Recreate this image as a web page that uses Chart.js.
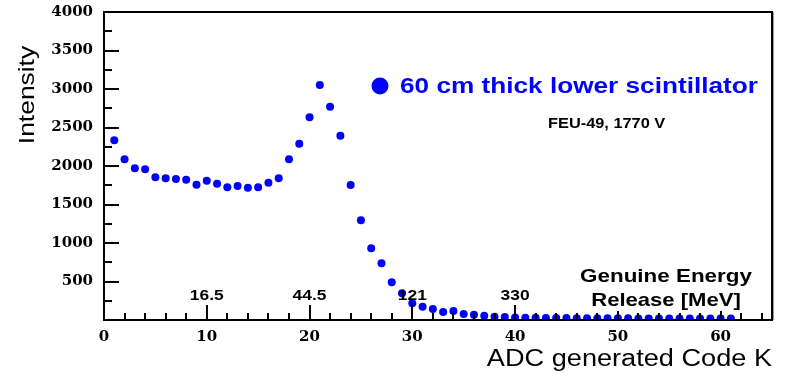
<!DOCTYPE html>
<html>
<head>
<meta charset="utf-8">
<script src="https://cdn.jsdelivr.net/npm/chart.js@4/dist/chart.umd.min.js"></script>
<style>
  html, body { margin: 0; padding: 0; background: #ffffff; }
  #wrap { width: 790px; height: 373px; }
</style>
</head>
<body>
<div id="wrap"><canvas id="c" width="790" height="373"></canvas></div>
<script>
// ---- data ----
const adcCodes = [1,2,3,4,5,6,7,8,9,10,11,12,13,14,15,16,17,18,19,20,
  21,22,23,24,25,26,27,28,29,30,31,32,33,34,35,36,37,38,39,40,
  41,42,43,44,45,46,47,48,49,50,51,52,53,54,55,56,57,58,59,60,61];
const intensity = [2334,2087,1970,1957,1853,1840,1831,1822,1757,1809,
  1770,1723,1740,1718,1723,1783,1840,2087,2290,2632,
  3052,2770,2394,1753,1295,931,736,491,347,217,
  173,143,104,117,78,69,56,43,39,32,
  30,28,27,26,25,24,24,23,23,22,
  22,21,21,20,20,20,19,19,19,18,18];
const energyCodes = [10, 20, 30, 40];
const energyLabels = ['16.5', '44.5', '121', '330'];
const seriesLabel = '60 cm thick lower scintillator';
const subtitle = 'FEU-49, 1770 V';
const energyTitle = ['Genuine Energy', 'Release [MeV]'];
const xTitle = 'ADC generated Code K';
const yTitle = 'Intensity';

const BLUE = '#0000ff';

function sText(ctx, text, x, y, font, sx, align, color) {
  ctx.save();
  ctx.font = font;
  ctx.fillStyle = color || '#000';
  ctx.textBaseline = 'alphabetic';
  ctx.textAlign = 'left';
  const w = ctx.measureText(text).width;
  ctx.translate(x, y);
  ctx.scale(sx, 1);
  const x0 = align === 'center' ? -w / 2 : (align === 'right' ? -w : 0);
  ctx.fillText(text, x0, 0);
  ctx.restore();
}

const decor = {
  id: 'decor',
  afterDraw(chart) {
    const ctx = chart.ctx;
    const xs = chart.scales.x, ys = chart.scales.y;
    const a = chart.chartArea;
    ctx.save();
    // frame
    ctx.strokeStyle = '#000';
    ctx.lineWidth = 2;
    ctx.strokeRect(a.left, a.top, a.right - a.left, a.bottom - a.top);
    ctx.strokeStyle = '#9a9a9a';
    ctx.lineWidth = 1;
    ctx.beginPath();
    ctx.moveTo(a.right + 1.5, a.top); ctx.lineTo(a.right + 1.5, a.bottom);
    ctx.stroke();
    // y ticks (inward)
    ctx.strokeStyle = '#000';
    ctx.lineWidth = 2;
    for (let v = 250; v < 4000; v += 250) {
      const py = Math.round(ys.getPixelForValue(v));
      const len = (v % 500 === 0) ? 15 : 8;
      ctx.beginPath();
      ctx.moveTo(a.left, py); ctx.lineTo(a.left + len, py);
      ctx.stroke();
    }
    // x ticks (inward)
    for (let v = 2; v < 65; v += 2) {
      const px = Math.round(xs.getPixelForValue(v));
      let len = 7;
      if (v % 10 === 0) len = 9;
      if (energyCodes.includes(v)) len = 15;
      ctx.beginPath();
      ctx.moveTo(px, a.bottom); ctx.lineTo(px, a.bottom - len);
      ctx.stroke();
    }
    ctx.restore();
    // energy labels
    for (let i = 0; i < energyCodes.length; i++) {
      const px = xs.getPixelForValue(energyCodes[i]);
      sText(ctx, energyLabels[i], px, 300, 'bold 15px "Liberation Sans", Arial, sans-serif', 1.16, 'center', '#000');
    }
    sText(ctx, energyTitle[0], 666, 282, 'bold 19px "Liberation Sans", Arial, sans-serif', 1.18, 'center', '#000');
    sText(ctx, energyTitle[1], 666, 306, 'bold 19px "Liberation Sans", Arial, sans-serif', 1.16, 'center', '#000');
    // legend
    ctx.save();
    ctx.fillStyle = BLUE;
    ctx.beginPath();
    ctx.arc(380, 86, 8.5, 0, Math.PI * 2);
    ctx.fill();
    ctx.restore();
    sText(ctx, seriesLabel, 400, 93, 'bold 22px "Liberation Sans", Arial, sans-serif', 1.19, 'left', BLUE);
    sText(ctx, subtitle, 548, 128, 'bold 15px "Liberation Sans", Arial, sans-serif', 1.09, 'left', '#000');
    // axis titles
    sText(ctx, xTitle, 772, 366, '23px "Liberation Sans", Arial, sans-serif', 1.18, 'right', '#000');
    ctx.save();
    ctx.translate(34, 95);
    ctx.rotate(-Math.PI / 2);
    sText(ctx, yTitle, 0, 0, '22px "Liberation Sans", Arial, sans-serif', 1.2, 'center', '#000');
    ctx.restore();
  }
};

const tickFont = { family: '"DejaVu Serif", serif', size: 15, weight: 'bold' };

new Chart(document.getElementById('c'), {
  type: 'scatter',
  data: {
    datasets: [{
      label: seriesLabel,
      data: adcCodes.map((c, i) => ({ x: c, y: intensity[i] })),
      backgroundColor: BLUE,
      borderWidth: 0,
      pointRadius: 4,
      pointHoverRadius: 4
    }]
  },
  options: {
    responsive: false,
    animation: false,
    events: [],
    layout: { padding: { left: 0, right: 18, top: 12, bottom: 0 } },
    plugins: { legend: { display: false }, tooltip: { enabled: false } },
    scales: {
      x: {
        type: 'linear', min: 0, max: 65,
        grid: { display: false, drawTicks: false },
        border: { display: false },
        ticks: {
          stepSize: 10, includeBounds: false, padding: 8,
          color: '#000', font: tickFont, maxRotation: 0,
          callback: v => (v % 10 === 0 && v <= 60) ? String(v) : ''
        },
        afterFit: s => { s.height = 53; s.paddingLeft = 0; s.paddingRight = 0; }
      },
      y: {
        type: 'linear', min: 0, max: 4000,
        grid: { display: false, drawTicks: false },
        border: { display: false },
        ticks: {
          stepSize: 500, padding: 11,
          color: '#000', font: tickFont,
          callback: v => v === 0 ? '' : String(v)
        },
        afterFit: s => { s.width = 104; s.paddingTop = 0; s.paddingBottom = 0; }
      }
    }
  },
  plugins: [decor]
});
</script>
</body>
</html>
